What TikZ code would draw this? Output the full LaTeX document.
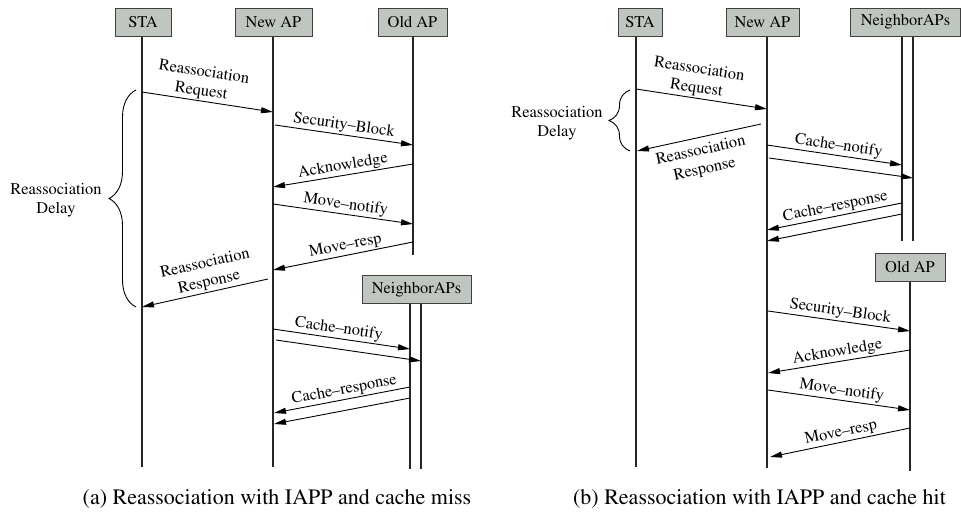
\documentclass[tikz,border=0pt]{standalone}
\usepackage[T1]{fontenc}
\renewcommand{\rmdefault}{ptm}
\usetikzlibrary{arrows.meta,decorations.pathreplacing}
\definecolor{boxfill}{HTML}{BFC6BF}
\definecolor{boxline}{HTML}{404040}
\newcommand{\lblfont}{\fontsize{16.4}{19}\selectfont}
\newcommand{\capfont}{\fontsize{22}{26}\selectfont}
\tikzset{
  actor/.style={draw=boxline, line width=1pt, fill=boxfill, minimum height=28pt, inner sep=0pt, font=\lblfont},
  life/.style={line width=1.2pt, black!85},
  msg/.style={line width=0.9pt, -{Triangle[length=12pt,width=6pt]}},
  lbl/.style={font=\lblfont, sloped, inner sep=1.5pt, align=center},
  plain/.style={font=\lblfont, align=center, inner sep=0pt},
  capt/.style={font=\capfont, inner sep=0pt},
  brc/.style={decorate, line width=0.9pt},
}
\begin{document}
\begin{tikzpicture}[x=1pt,y=-1pt]
\useasboundingbox (0,0) rectangle (961,514);
% ---------------- panel (a) ----------------
\node[actor, minimum width=56pt] (sa) at (143,22) {STA};
\node[actor, minimum width=77pt] (na) at (273.5,22) {New AP};
\node[actor, minimum width=69pt] (oa) at (412.5,22) {Old AP};
\node[actor, minimum width=109pt] (ga) at (416.5,289.5) {NeighborAPs};
\coordinate (sae) at (142,467);
\coordinate (nae) at (273,467);
\coordinate (oae) at (413,255);
\coordinate (ga1) at (410,469);
\coordinate (ga2) at (421,469);
\draw[life] (sa.south -| sae) -- (sae);
\draw[life] (na.south -| nae) -- (nae);
\draw[life] (oa.south -| oae) -- (oae);
\draw[life] (ga.south -| ga1) -- (ga1);
\draw[life] (ga.south -| ga2) -- (ga2);

\coordinate (a1s) at (142,92);  \coordinate (a1e) at (273,112);
\coordinate (a2s) at (275,125); \coordinate (a2e) at (413,145);
\coordinate (a3s) at (413,164); \coordinate (a3e) at (273,187);
\coordinate (a4s) at (273,204); \coordinate (a4e) at (413,224);
\coordinate (a5s) at (413,242); \coordinate (a5e) at (273,270);
\coordinate (a6s) at (268,279); \coordinate (a6e) at (142,307);
\coordinate (a7s) at (273,329); \coordinate (a7e) at (410,349);
\coordinate (a8s) at (276,340); \coordinate (a8e) at (421,361);
\coordinate (a9s) at (410,387); \coordinate (a9e) at (274,413);
\coordinate (a10s) at (410,398); \coordinate (a10e) at (274,424);
\draw[msg] (a1s) -- node[lbl,above,pos=0.44]{Reassociation\\Request} (a1e);
\draw[msg] (a2s) -- node[lbl,above,pos=0.49]{Security--Block} (a2e);
\draw[msg] (a3s) -- node[lbl,above,pos=0.49]{Acknowledge} (a3e);
\draw[msg] (a4s) -- node[lbl,above,pos=0.51]{Move--notify} (a4e);
\draw[msg] (a5s) -- node[lbl,above,pos=0.47]{Move--resp} (a5e);
\draw[msg] (a6s) -- node[lbl,above,pos=0.45]{Reassociation\\Response} (a6e);
\draw[msg] (a7s) -- node[lbl,above,pos=0.47]{Cache--notify} (a7e);
\draw[msg] (a8s) -- (a8e);
\draw[msg] (a9s) -- node[lbl,above,pos=0.47]{Cache--response} (a9e);
\draw[msg] (a10s) -- (a10e);

\coordinate (ab1) at (136,307); \coordinate (ab2) at (136,90);
\draw[brc, decoration={brace, amplitude=27pt}] (ab1) -- (ab2);
\node[plain] (ad) at (56,200) {Reassociation\\Delay};
\node[capt] (ca) at (277,499) {(a) Reassociation with IAPP and cache miss};

% ---------------- panel (b) ----------------
\node[actor, minimum width=44pt] (sb) at (640,22) {STA};
\node[actor, minimum width=73pt] (nb) at (762.5,22) {New AP};
\node[actor, minimum width=110pt] (gb) at (905.5,22) {NeighborAPs};
\node[actor, minimum width=70pt] (ob) at (910,267.5) {Old AP};
\coordinate (sbe) at (636,467);
\coordinate (nbe) at (767,468);
\coordinate (gb1) at (902,241);
\coordinate (gb2) at (913,241);
\coordinate (obe) at (910,471);
\draw[life] (sb.south -| sbe) -- (sbe);
\draw[life] (nb.south -| nbe) -- (nbe);
\draw[life] (gb.south -| gb1) -- (gb1);
\draw[life] (gb.south -| gb2) -- (gb2);
\draw[life] (ob.south -| obe) -- (obe);

\coordinate (b1s) at (636,89);  \coordinate (b1e) at (767,109);
\coordinate (b2s) at (761,124); \coordinate (b2e) at (637,151);
\coordinate (b3s) at (767,145); \coordinate (b3e) at (902,165);
\coordinate (b4s) at (769,158); \coordinate (b4e) at (913,178);
\coordinate (b5s) at (902,203); \coordinate (b5e) at (767,230);
\coordinate (b6s) at (902,214); \coordinate (b6e) at (767,241);
\coordinate (b7s) at (768,311); \coordinate (b7e) at (910,331);
\coordinate (b8s) at (910,350); \coordinate (b8e) at (768,373);
\coordinate (b9s) at (768,390); \coordinate (b9e) at (910,410);
\coordinate (b10s) at (910,428); \coordinate (b10e) at (770,457);
\draw[msg] (b1s) -- node[lbl,above,pos=0.45]{Reassociation\\Request} (b1e);
\draw[msg] (b2s) -- node[lbl,below,pos=0.51,inner sep=6pt]{Reassociation\\Response} (b2e);
\draw[msg] (b3s) -- node[lbl,above,pos=0.52]{Cache--notify} (b3e);
\draw[msg] (b4s) -- (b4e);
\draw[msg] (b5s) -- node[lbl,above,pos=0.48]{Cache--response} (b5e);
\draw[msg] (b6s) -- (b6e);
\draw[msg] (b7s) -- node[lbl,above,pos=0.5]{Security--Block} (b7e);
\draw[msg] (b8s) -- node[lbl,above,pos=0.5]{Acknowledge} (b8e);
\draw[msg] (b9s) -- node[lbl,above,pos=0.51]{Move--notify} (b9e);
\draw[msg] (b10s) -- node[lbl,above,pos=0.48]{Move--resp} (b10e);

\coordinate (bb1) at (630,151); \coordinate (bb2) at (630,90);
\draw[brc, decoration={brace, amplitude=21pt}] (bb1) -- (bb2);
\node[plain] (bd) at (557,123) {Reassociation\\Delay};
\node[capt] (cb) at (759.5,499) {(b) Reassociation with IAPP and cache hit};
\end{tikzpicture}
\end{document}
